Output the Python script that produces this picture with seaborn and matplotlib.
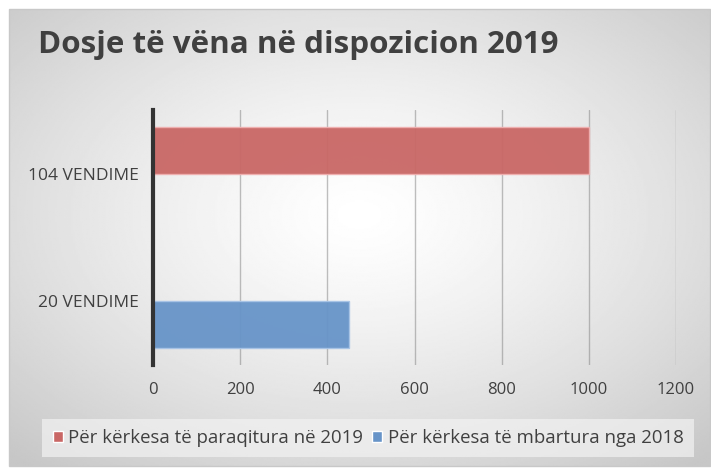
import numpy as np
import pandas as pd
import matplotlib.pyplot as plt
import seaborn as sns
from matplotlib.patches import Rectangle

sns.set_theme(style="white")
plt.rcParams['font.family'] = ['Open Sans', 'DejaVu Sans']

# --- Datos ---
KATEGORITE = ['104 VENDIME', '20 VENDIME']
SERITE = ['Për kërkesa të paraqitura në 2019', 'Për kërkesa të mbartura nga 2018']
VLERAT_2019 = [1000, None]
VLERAT_2018 = [None, 450]
NGJYRAT = ['#C96765', '#6794C8']
NGJYRAT_KUFIRI = ['#F0B0B0', '#A8C4E6']
TICKS_X = [0, 200, 400, 600, 800, 1000, 1200]

rows = []
for kat, v19, v18 in zip(KATEGORITE, VLERAT_2019, VLERAT_2018):
    if v19 is not None:
        rows.append({'kategoria': kat, 'seria': SERITE[0], 'vlera': v19})
    if v18 is not None:
        rows.append({'kategoria': kat, 'seria': SERITE[1], 'vlera': v18})
df = pd.DataFrame(rows)

W, H = 711, 471
fig = plt.figure(figsize=(W / 100, H / 100), dpi=100)
fig.patch.set_facecolor('white')

# fondi me gradient radial
bg = fig.add_axes([9 / W, 5 / H, 701 / W, 457 / H], zorder=0)
xx, yy = np.meshgrid(np.linspace(-1, 1, 400), np.linspace(-1, 1, 300))
r = np.sqrt(xx ** 2 + (yy + 0.1) ** 2) / 1.45
grad = 1.0 - 0.22 * np.clip(r, 0, 1) ** 1.3
bg.imshow(grad, cmap='gray', vmin=0, vmax=1, aspect='auto', extent=[0, 1, 0, 1])
bg.set_xlim(0, 1)
bg.set_ylim(0, 1)
bg.axis('off')
fig.patches.append(Rectangle((9 / W, 5 / H), 701 / W, 457 / H, transform=fig.transFigure,
                             fill=False, edgecolor='#C8C8C8', linewidth=1, zorder=1))

ax = fig.add_axes([153 / W, 1 - 365 / H, 523 / W, 255 / H], zorder=2)
ax.patch.set_alpha(0)

sns.barplot(data=df, x='vlera', y='kategoria', hue='seria', order=KATEGORITE,
            hue_order=SERITE, palette=NGJYRAT, orient='h', width=0.74, dodge=True,
            saturation=1, alpha=0.95, linewidth=1.0, ax=ax, legend=True)

# kufiri me i lehte i shtyllave
for bar, ngj in zip(ax.patches, NGJYRAT_KUFIRI):
    bar.set_edgecolor(ngj)

ax.set_xlim(0, 1200)
ax.set_xticks(TICKS_X)
ax.set_xticklabels([str(t) for t in TICKS_X], fontsize=12, color='#404040')
ax.tick_params(axis='y', labelsize=12.5, labelcolor='#404040', length=0, pad=10)
ax.tick_params(axis='x', length=0, pad=12)
ax.set_yticklabels(KATEGORITE, fontsize=12.5)
ax.set_xlabel('')
ax.set_ylabel('')
for t in TICKS_X[1:]:
    ax.axvline(t, color='#808080', alpha=0.5, linewidth=1, zorder=0)
for s in ['top', 'right', 'bottom']:
    ax.spines[s].set_visible(False)
ax.spines['left'].set_color('#333333')
ax.spines['left'].set_linewidth(3)
ax.set_axisbelow(True)

ax.legend_.remove()
handles = [Rectangle((0, 0), 1, 1, facecolor=c) for c in NGJYRAT]
leg = fig.legend(handles, SERITE, loc='center', bbox_to_anchor=(368 / W, 1 - 438 / H),
                 ncol=2, frameon=True, fontsize=13.4, handlelength=0.55, handleheight=0.55,
                 handletextpad=0.3, columnspacing=0.45, borderpad=0.55, borderaxespad=0)
leg.get_frame().set_facecolor('#F2F2F2')
leg.get_frame().set_alpha(0.7)
leg.get_frame().set_edgecolor('none')
leg.get_frame().set_boxstyle('square', pad=0)
for t in leg.get_texts():
    t.set_color('#404040')

fig.text(38 / W, 1 - 45 / H, 'Dosje të vëna në dispozicion 2019', fontsize=22.6,
         fontweight='bold', color='#404040', va='center', ha='left')

fig.savefig('out.png', dpi=100)
